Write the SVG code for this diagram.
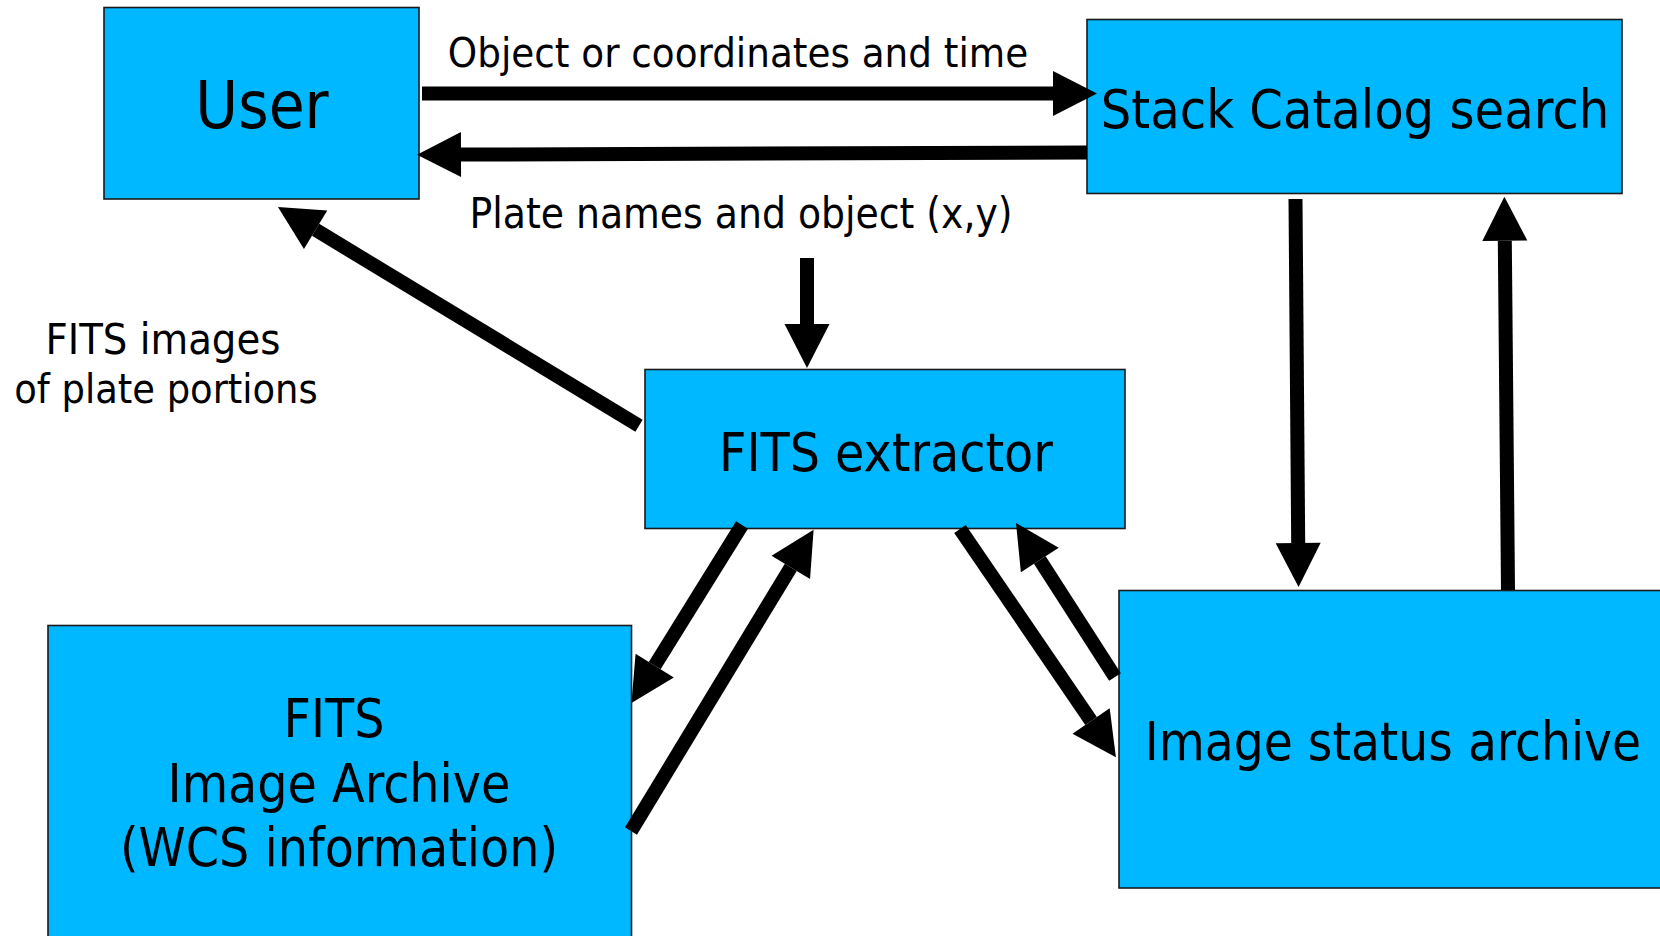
<svg xmlns="http://www.w3.org/2000/svg" width="1660" height="936" viewBox="0 0 1660 936">
<defs>
<style>
.box{fill:#00B8FF;stroke:#1a1a1a;stroke-width:1.6}
.t{font-family:"DejaVu Sans Condensed","DejaVu Sans",sans-serif;font-stretch:semi-condensed;fill:#000;text-anchor:middle}
.big{font-size:53px}
.lbl{font-size:41.5px}
.ln{stroke:#000;stroke-width:14;fill:none;marker-end:url(#ah)}
</style>
<marker id="ah" markerUnits="userSpaceOnUse" markerWidth="46" markerHeight="46" refX="0" refY="22.5" orient="auto" overflow="visible">
<path d="M0,0 L44,22.5 L0,45 z" fill="#000"/>
</marker>
</defs>
<rect width="1660" height="936" fill="#fff"/>
<g id="user">
<rect class="box" x="104" y="7.5" width="315" height="191.5"/>
<text class="t" x="262" y="128" font-size="65">User</text>
</g>
<g id="stack">
<rect class="box" x="1087" y="19.5" width="535" height="174"/>
<text class="t" x="1355" y="128" font-size="53.5">Stack Catalog search</text>
</g>
<g id="extractor">
<rect class="box" x="645" y="369.5" width="480" height="159"/>
<text class="t big" x="886" y="471">FITS extractor</text>
</g>
<g id="fitsarchive">
<rect class="box" x="48" y="625.5" width="583.5" height="320"/>
<text class="t big" x="334" y="737">FITS</text>
<text class="t big" x="339" y="802">Image Archive</text>
<text class="t big" x="339" y="866">(WCS information)</text>
</g>
<g id="statusarchive">
<rect class="box" x="1119" y="590.5" width="550" height="297.5"/>
<text class="t" x="1393" y="760" font-size="52.5">Image status archive</text>
</g>
<g id="labels">
<text class="t lbl" x="738" y="67">Object or coordinates and time</text>
<text class="t" x="741" y="228" font-size="42">Plate names and object (x,y)</text>
<text class="t" x="163" y="354" font-size="43">FITS images</text>
<text class="t" x="166" y="403" font-size="41">of plate portions</text>
</g>
<g id="connectors">
<line class="ln" x1="422" y1="93.4" x2="1053" y2="93.4"/>
<line class="ln" x1="1087" y1="152.5" x2="461" y2="154.6"/>
<line class="ln" x1="639" y1="425.7" x2="315.6" y2="229.8"/>
<line class="ln" x1="807" y1="258" x2="807" y2="324"/>
<line class="ln" x1="1295.5" y1="199" x2="1298.2" y2="543"/>
<line class="ln" x1="1508" y1="590" x2="1504.8" y2="240.7"/>
<line class="ln" x1="742" y1="525" x2="654.7" y2="665.6"/>
<line class="ln" x1="631" y1="831" x2="790.8" y2="567.3"/>
<line class="ln" x1="960" y1="529" x2="1091.1" y2="721"/>
<line class="ln" x1="1115" y1="677" x2="1039.8" y2="560"/>
</g>
</svg>
